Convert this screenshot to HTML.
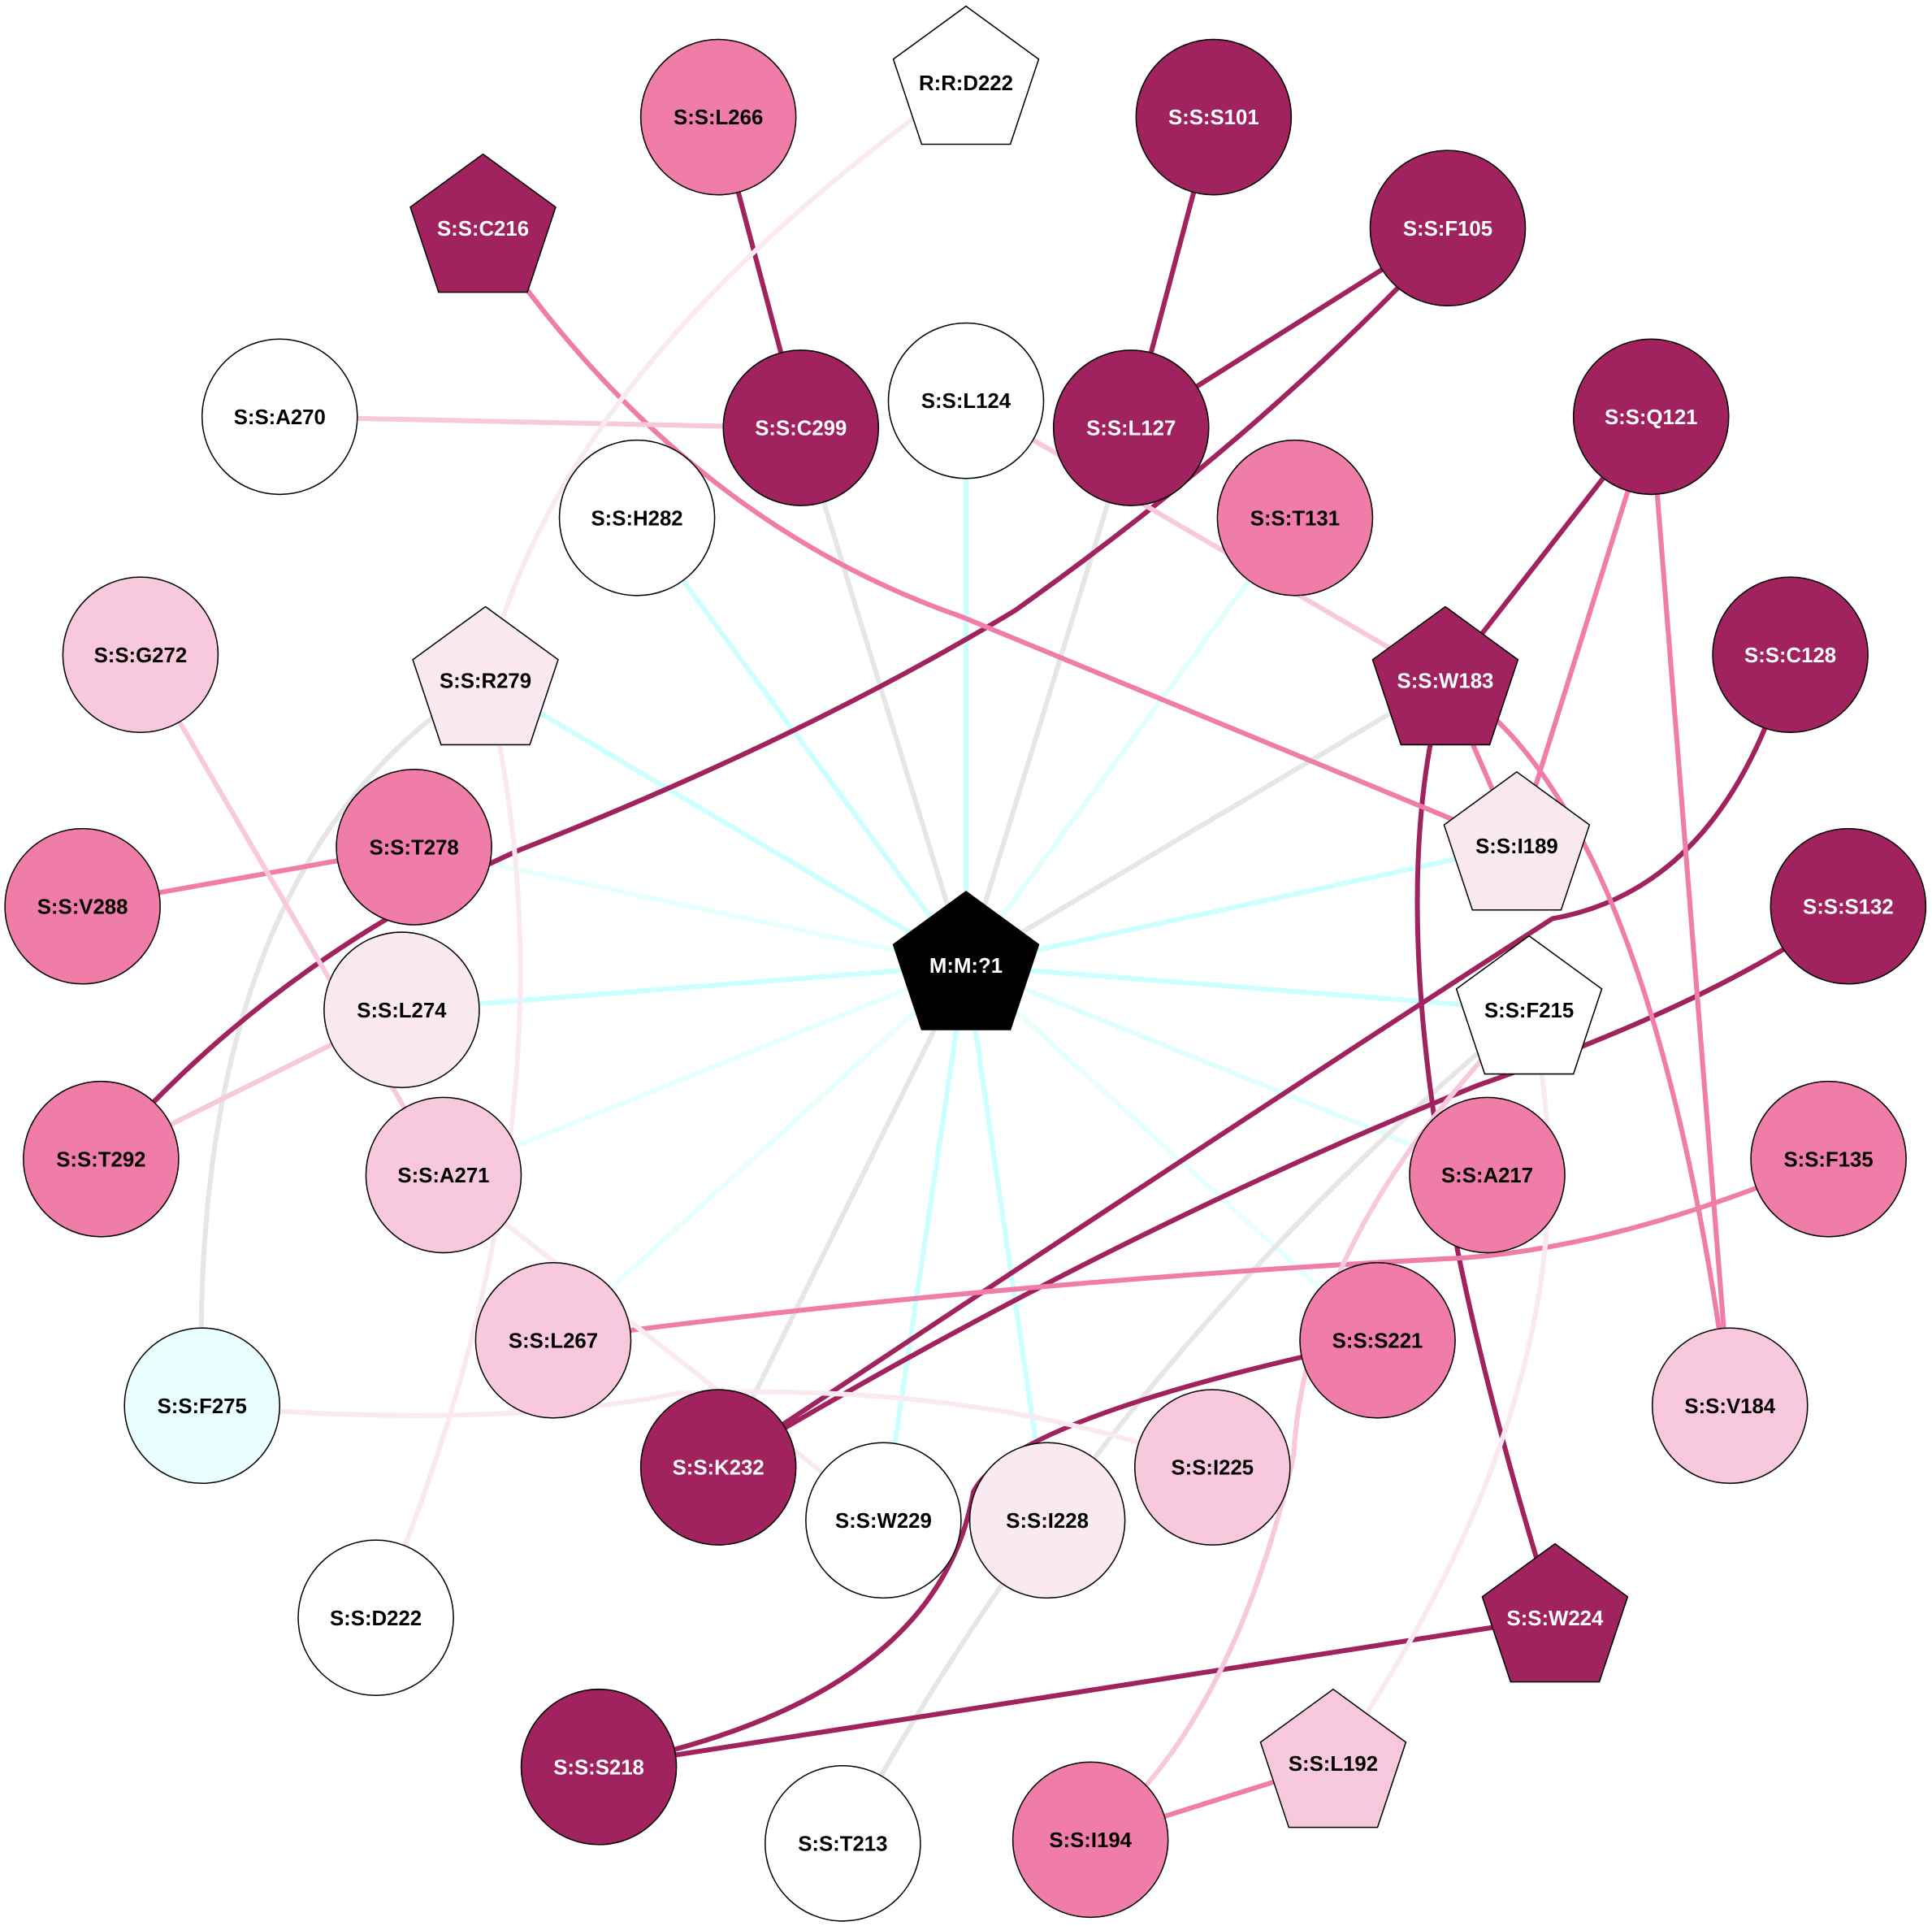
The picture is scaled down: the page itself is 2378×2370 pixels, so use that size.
<!DOCTYPE html>
<html><head><meta charset="utf-8"><style>
html,body{margin:0;padding:0;background:#fff}
svg{display:block}
text{font-family:"Liberation Sans",sans-serif;font-weight:bold;font-size:17px;text-anchor:middle;stroke:none;fill:#000}
text.w{fill:#fff}
</style></head><body>
<svg width="2378" height="2370" viewBox="0 0 1568 1562" preserveAspectRatio="none" xmlns="http://www.w3.org/2000/svg">
<g fill="none" stroke-width="4">
<g stroke="#ccffff">
<line x1="784" y1="783" x2="517" y2="420"/>
<line x1="784" y1="783" x2="784" y2="325"/>
<line x1="784" y1="783" x2="1051" y2="420" stroke="#e0ffff"/>
<line x1="784" y1="783" x2="394" y2="552"/>
<line x1="784" y1="783" x2="336" y2="687" stroke="#e6ffff"/>
<line x1="784" y1="783" x2="326" y2="819"/>
<line x1="784" y1="783" x2="1231" y2="686"/>
<line x1="784" y1="783" x2="1241" y2="819"/>
<line x1="784" y1="783" x2="1207" y2="953" stroke="#e0ffff"/>
<line x1="784" y1="783" x2="360" y2="953" stroke="#e6ffff"/>
<line x1="784" y1="783" x2="449" y2="1087" stroke="#e6ffff"/>
<line x1="784" y1="783" x2="717" y2="1233"/>
<line x1="784" y1="783" x2="850" y2="1233"/>
<line x1="784" y1="783" x2="1118" y2="1087" stroke="#e6ffff"/>
</g>
<g stroke="#e6e6e6">
<line x1="784" y1="783" x2="650" y2="347"/>
<line x1="784" y1="783" x2="918" y2="347"/>
<line x1="784" y1="783" x2="1173" y2="552"/>
<line x1="784" y1="783" x2="583" y2="1190"/>
<path d="M394 552 Q150 700 164 1140"/>
<path d="M1241 819 Q900 1100 684 1495"/>
</g>
<g stroke="#a0225e">
<line x1="583" y1="95" x2="650" y2="347"/>
<line x1="985" y1="95" x2="918" y2="347"/>
<line x1="1175" y1="185" x2="918" y2="347"/>
<path d="M1175 185 L1134 234 Q1000 370 824 495 Q650 600 420 690 Q220 780 82 940"/>
<line x1="1340" y1="338" x2="1173" y2="552"/>
<path d="M1173 552 Q1100 800 1262 1312"/>
<path d="M1453 531 Q1400 720 1260 745 Q1050 880 583 1190"/>
<path d="M1500 735 Q1400 810 1200 880 Q900 1000 583 1190"/>
<path d="M1118 1087 Q820 1150 790 1210 Q760 1380 486 1433"/>
<line x1="1262" y1="1312" x2="486" y2="1433"/>
</g>
<g stroke="#f07ca8">
<path d="M392 185 Q550 420 780 500 Q1000 590 1231 686"/>
<line x1="1340" y1="338" x2="1231" y2="686"/>
<line x1="1340" y1="338" x2="1404" y2="1140"/>
<line x1="1173" y1="552" x2="1231" y2="686"/>
<path d="M1173 552 Q1340 650 1404 1140"/>
<line x1="336" y1="687" x2="67" y2="735"/>
<path d="M1484 940 Q1320 1010 1190 1020 Q800 1040 449 1087"/>
<line x1="1082" y1="1430" x2="885" y2="1492"/>
</g>
<g stroke="#f8c8dc">
<line x1="227" y1="338" x2="650" y2="347"/>
<line x1="784" y1="325" x2="1173" y2="552"/>
<line x1="114" y1="531" x2="360" y2="953"/>
<line x1="326" y1="819" x2="82" y2="940"/>
<path d="M1241 819 Q1060 1000 1050 1180 Q1000 1400 885 1492"/>
</g>
<g stroke="#fbe9f1">
<path d="M784 65 Q450 300 394 552"/>
<path d="M394 552 Q480 900 305 1312"/>
<path d="M164 1140 Q400 1160 550 1130 Q800 1120 984 1190"/>
<line x1="360" y1="953" x2="717" y2="1233"/>
<path d="M1241 819 Q1310 1100 1082 1430"/>
</g>
</g>
<g stroke="#000" stroke-width="1">
<polygon transform="translate(784,67)" fill="#fff" points="0,-62 59,-19 36,50 -36,50 -59,-19"/>
<circle cx="583" cy="95" r="63" fill="#f07ca8"/>
<circle cx="985" cy="95" r="63" fill="#a0225e"/>
<polygon transform="translate(392,187)" fill="#a0225e" points="0,-62 59,-19 36,50 -36,50 -59,-19"/>
<circle cx="1175" cy="185" r="63" fill="#a0225e"/>
<circle cx="227" cy="338" r="63" fill="#fff"/>
<circle cx="650" cy="347" r="63" fill="#a0225e"/>
<circle cx="784" cy="325" r="63" fill="#fff"/>
<circle cx="918" cy="347" r="63" fill="#a0225e"/>
<circle cx="1340" cy="338" r="63" fill="#a0225e"/>
<circle cx="517" cy="420" r="63" fill="#fff"/>
<circle cx="1051" cy="420" r="63" fill="#f07ca8"/>
<circle cx="114" cy="531" r="63" fill="#f8c8dc"/>
<polygon transform="translate(394,554)" fill="#fbe9f1" points="0,-62 59,-19 36,50 -36,50 -59,-19"/>
<polygon transform="translate(1173,554)" fill="#a0225e" points="0,-62 59,-19 36,50 -36,50 -59,-19"/>
<circle cx="1453" cy="531" r="63" fill="#a0225e"/>
<circle cx="336" cy="687" r="63" fill="#f07ca8"/>
<polygon transform="translate(1231,688)" fill="#fbe9f1" points="0,-62 59,-19 36,50 -36,50 -59,-19"/>
<circle cx="67" cy="735" r="63" fill="#f07ca8"/>
<circle cx="1500" cy="735" r="63" fill="#a0225e"/>
<polygon transform="translate(784,785)" fill="#000" points="0,-62 59,-19 36,50 -36,50 -59,-19"/>
<circle cx="326" cy="819" r="63" fill="#fbe9f1"/>
<polygon transform="translate(1241,821)" fill="#fff" points="0,-62 59,-19 36,50 -36,50 -59,-19"/>
<circle cx="82" cy="940" r="63" fill="#f07ca8"/>
<circle cx="360" cy="953" r="63" fill="#f8c8dc"/>
<circle cx="1207" cy="953" r="63" fill="#f07ca8"/>
<circle cx="1484" cy="940" r="63" fill="#f07ca8"/>
<circle cx="449" cy="1087" r="63" fill="#f8c8dc"/>
<circle cx="1118" cy="1087" r="63" fill="#f07ca8"/>
<circle cx="164" cy="1140" r="63" fill="#eaffff"/>
<circle cx="1404" cy="1140" r="63" fill="#f8c8dc"/>
<circle cx="583" cy="1190" r="63" fill="#a0225e"/>
<circle cx="984" cy="1190" r="63" fill="#f8c8dc"/>
<circle cx="717" cy="1233" r="63" fill="#fff"/>
<circle cx="850" cy="1233" r="63" fill="#fbe9f1"/>
<circle cx="305" cy="1312" r="63" fill="#fff"/>
<polygon transform="translate(1262,1314)" fill="#a0225e" points="0,-62 59,-19 36,50 -36,50 -59,-19"/>
<circle cx="486" cy="1433" r="63" fill="#a0225e"/>
<polygon transform="translate(1082,1432)" fill="#f8c8dc" points="0,-62 59,-19 36,50 -36,50 -59,-19"/>
<circle cx="684" cy="1495" r="63" fill="#fff"/>
<circle cx="885" cy="1492" r="63" fill="#f07ca8"/>
</g>
<g>
<text x="784" y="73">R:R:D222</text>
<text x="583" y="101">S:S:L266</text>
<text x="985" y="101" class="w">S:S:S101</text>
<text x="392" y="191" class="w">S:S:C216</text>
<text x="1175" y="191" class="w">S:S:F105</text>
<text x="227" y="344">S:S:A270</text>
<text x="650" y="353" class="w">S:S:C299</text>
<text x="784" y="331">S:S:L124</text>
<text x="918" y="353" class="w">S:S:L127</text>
<text x="1340" y="344" class="w">S:S:Q121</text>
<text x="517" y="426">S:S:H282</text>
<text x="1051" y="426">S:S:T131</text>
<text x="114" y="537">S:S:G272</text>
<text x="394" y="558">S:S:R279</text>
<text x="1173" y="558" class="w">S:S:W183</text>
<text x="1453" y="537" class="w">S:S:C128</text>
<text x="336" y="693">S:S:T278</text>
<text x="1231" y="692">S:S:I189</text>
<text x="67" y="741">S:S:V288</text>
<text x="1500" y="741" class="w">S:S:S132</text>
<text x="784" y="789" class="w">M:M:?1</text>
<text x="326" y="825">S:S:L274</text>
<text x="1241" y="825">S:S:F215</text>
<text x="82" y="946">S:S:T292</text>
<text x="360" y="959">S:S:A271</text>
<text x="1207" y="959">S:S:A217</text>
<text x="1484" y="946">S:S:F135</text>
<text x="449" y="1093">S:S:L267</text>
<text x="1118" y="1093">S:S:S221</text>
<text x="164" y="1146">S:S:F275</text>
<text x="1404" y="1146">S:S:V184</text>
<text x="583" y="1196" class="w">S:S:K232</text>
<text x="984" y="1196">S:S:I225</text>
<text x="717" y="1239">S:S:W229</text>
<text x="850" y="1239">S:S:I228</text>
<text x="305" y="1318">S:S:D222</text>
<text x="1262" y="1318" class="w">S:S:W224</text>
<text x="486" y="1439" class="w">S:S:S218</text>
<text x="1082" y="1436">S:S:L192</text>
<text x="684" y="1501">S:S:T213</text>
<text x="885" y="1498">S:S:I194</text>
</g>
</svg>
</body></html>
